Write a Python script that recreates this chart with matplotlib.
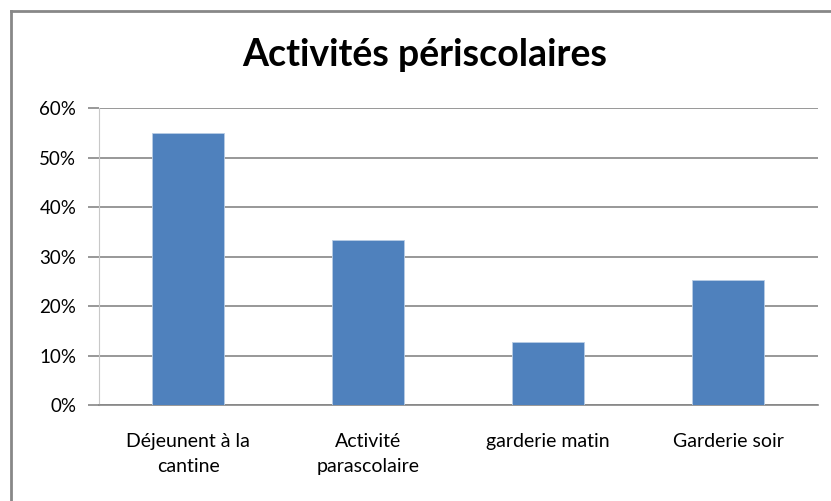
import matplotlib
matplotlib.use('Agg')
import matplotlib.pyplot as plt
from matplotlib.ticker import PercentFormatter

categories = ['Déjeunent à la\ncantine', 'Activité\nparascolaire', 'garderie matin', 'Garderie soir']
values = [0.55, 0.333, 0.127, 0.253]
yticks = [0, 0.1, 0.2, 0.3, 0.4, 0.5, 0.6]

plt.rcParams['font.family'] = ['Lato', 'DejaVu Sans']

fig = plt.figure(figsize=(8.31, 5.01), dpi=100)
ax = fig.add_axes([98.5 / 831, 1 - 405 / 501, (818 - 98.5) / 831, (405 - 108.3) / 501])

# bordure du graphique (comme Excel)
fig.add_artist(plt.Line2D([11 / 831, 11 / 831], [0, 1 - 11 / 501], transform=fig.transFigure,
                          color='#888888', linewidth=2))
fig.add_artist(plt.Line2D([11 / 831, 1], [1 - 11 / 501, 1 - 11 / 501], transform=fig.transFigure,
                          color='#888888', linewidth=2))

x = range(len(categories))
ax.bar(x, values, width=0.4, color='#4F81BD', edgecolor='#B9CDE5', linewidth=0.6, zorder=3)

ax.set_xlim(-0.5, len(categories) - 0.5)
ax.set_ylim(0, 0.6)
ax.set_yticks(yticks)
ax.yaxis.set_major_formatter(PercentFormatter(1.0, decimals=0))
ax.grid(axis='y', color='#868686', linewidth=1.2, zorder=0)
ax.set_xticks(list(x))
ax.set_xticklabels(categories, fontsize=14, linespacing=1.6)

for s in ['top', 'right']:
    ax.spines[s].set_visible(False)
ax.spines['left'].set_color('#c8c8c8')
ax.spines['bottom'].set_color('#868686')
ax.spines['bottom'].set_linewidth(1.2)
ax.tick_params(axis='y', length=8, color='#868686', width=1.2, labelsize=13.5, pad=8)
ax.tick_params(axis='x', length=0, pad=20)

fig.text(425 / 831, 1 - 55 / 501, 'Activités périscolaires', ha='center', va='center',
         fontsize=27, fontweight='bold')

fig.savefig('out.png', dpi=100, facecolor='white')
